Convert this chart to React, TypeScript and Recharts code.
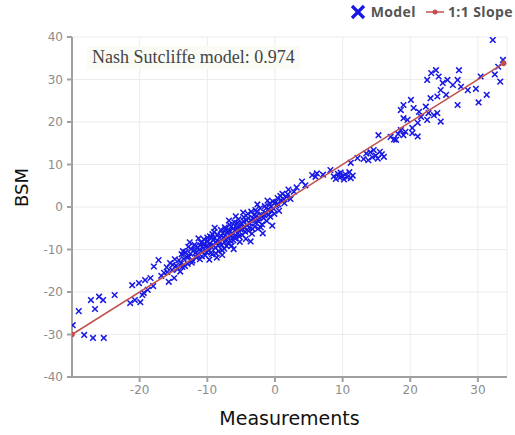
import React from "react";
import {
  ScatterChart,
  Scatter,
  XAxis,
  YAxis,
  CartesianGrid,
} from "recharts";

const lowTail: [number, number][] = [
  [-29.9, -27.8], [-29, -24.5], [-28.2, -30.1], [-27.2, -21.9], [-26.6, -24],
  [-26.9, -30.8], [-26, -21.1], [-25.4, -21.9], [-25.3, -30.8], [-23.7, -20.7],
  [-21.4, -22.6], [-20.7, -21.9], [-19.9, -22.4], [-19.6, -20.7], [-19.4, -20.2],
  [-21.1, -18.4], [-20.1, -17.9], [-19.2, -17.2], [-18.4, -16.7], [-17.9, -14],
  [-17.2, -12.5], [-18.8, -19.5], [-18, -18.6],
];

const bandLow: [number, number][] = [
  [-16.4, -15.5], [-15.7, -17.6], [-15.2, -14.8], [-14.9, -16.7], [-14.2, -12.5],
  [-13.7, -14.1], [-12.7, -11.7], [-11.8, -10.8], [-10.7, -10.5], [-16.8, -16.2],
  [-16, -14.2], [-15.5, -13.2], [-14.6, -13.8], [-14, -15.2], [-13.5, -12.2],
  [-13.2, -10.6], [-12.9, -13.4], [-12.4, -9.9], [-12.2, -12.6], [-11.9, -8.9],
  [-11.6, -11.9], [-11.4, -9.6], [-11.1, -12.3], [-10.9, -8.4], [-10.5, -7.6],
  [-10.3, -11.4], [-10.2, -9.3], [-13.8, -11.1], [-14.8, -12.3], [-15.9, -15.3],
  [-12.6, -8.3], [-11.3, -7.4],
];

const bandMid: [number, number][] = [
  [-9.9, -8.1], [-9.8, -10.2], [-9.6, -6.9], [-9.5, -9.2], [-9.3, -11.1],
  [-9.1, -7.8], [-9, -5.9], [-8.8, -9.6], [-8.7, -8.4], [-8.5, -6.5],
  [-8.3, -10.4], [-8.2, -7.3], [-8, -5.4], [-7.9, -8.9], [-7.7, -6.2],
  [-7.5, -9.8], [-7.4, -4.8], [-7.2, -7.6], [-7, -5.7], [-6.9, -8.6],
  [-6.7, -4.2], [-6.5, -6.8], [-6.4, -9.1], [-6.2, -5.1], [-6, -3.6],
  [-5.9, -7.4], [-5.7, -4.7], [-5.5, -6.1], [-5.4, -2.9], [-5.2, -8.2],
  [-5.1, -5.3], [-9.7, -12.4], [-8.9, -4.9], [-7.8, -11.3], [-6.8, -3.2],
  [-6.1, -9.9], [-9.4, -7.1], [-8.6, -11.9], [-7.1, -6.1], [-5.8, -2.2],
];

const bandHigh: [number, number][] = [
  [-4.9, -3.9], [-4.8, -6.6], [-4.6, -2.4], [-4.5, -4.9], [-4.3, -7.5],
  [-4.2, -3.1], [-4, -1.6], [-3.9, -5.6], [-3.7, -3.9], [-3.5, -1.1],
  [-3.4, -6.3], [-3.2, -2.8], [-3, -4.6], [-2.9, -0.7], [-2.7, -2.1],
  [-2.5, -5.1], [-2.4, -3.4], [-2.2, -0.3], [-2, -1.8], [-1.9, -4.1],
  [-1.7, -2.6], [-1.5, 0.2], [-1.4, -1.4], [-1.2, -3.3], [-1, -0.6],
  [-0.8, 0.8], [-0.7, -2.3], [-0.5, -0.9], [-0.3, 1.3], [-0.1, -1.6],
  [-4.7, -1.3], [-3.6, -8.1], [-2.6, 0.6], [-1.8, -6.2], [-1.1, 1.5], [-0.4, -4.4],
];

// extra marks that fill out the dense core of the band
const bandFill: [number, number][] = [
  [-15.1, -13.6], [-14.4, -14.6], [-13.9, -13.3], [-13.6, -10.4], [-13.3, -13.9],
  [-13, -11.8], [-12.8, -9.4], [-12.5, -11], [-12.3, -13.1], [-12, -10.2],
  [-11.7, -9.2], [-11.5, -11.2], [-11.2, -10.1], [-11, -9], [-10.8, -11.6],
  [-10.6, -9.6], [-10.4, -8.6], [-10.1, -10.6], [-10, -7.2], [-9.85, -9.5],
  [-9.65, -8.6], [-9.45, -10.7], [-9.25, -6.4], [-9.05, -9.1], [-8.95, -7.3],
  [-8.75, -10.9], [-8.55, -7.9], [-8.4, -9.1], [-8.1, -8.2], [-7.95, -6.8],
  [-7.8, -10.2], [-7.6, -7.2], [-7.45, -8.3], [-7.3, -5.2], [-7.15, -9.2],
  [-6.95, -7.1], [-6.75, -5.6], [-6.6, -7.9], [-6.45, -4.6], [-6.3, -6.2],
  [-6.15, -7.8], [-5.95, -5.5], [-5.75, -6.7], [-5.6, -3.8], [-5.45, -5],
  [-5.3, -6.9], [-5.05, -4.2], [-4.85, -5.2], [-4.65, -3.3], [-4.4, -5.8],
  [-4.15, -4.3], [-3.95, -2.6], [-3.8, -4.8], [-3.55, -3.1], [-3.3, -5.2],
  [-3.1, -1.9], [-2.85, -3.7], [-2.65, -1.2], [-2.3, -2.6], [-2.1, -4.8],
  [-1.6, -1.9], [-1.3, -0.3], [-0.9, -1.8], [-0.6, 0.1], [-0.2, -0.4],
  [0.1, 1.1], [0.5, 0.6], [0.8, 2.6], [1.3, 1.8], [1.9, 3],
];

const midRun: [number, number][] = [
  [0.2, 0.4], [0.4, 2.1], [0.6, -0.9], [0.9, 1.6], [1.1, 3.1], [1.4, 0.9],
  [1.7, 2.4], [2, 4.1], [2.3, 1.9], [2.8, 3.6], [3.2, 4.6], [4, 6],
  [4.5, 5.1], [5.5, 7.5], [6, 7.1], [6.2, 7.9], [7.1, 7.6], [8.2, 8.7],
  [8.7, 7.2], [9, 6.6], [9.3, 7.8], [9.6, 6.9], [9.7, 8.1], [10, 7.3],
  [10.2, 6.5], [10.4, 7.7], [10.7, 7], [11, 8.2], [11.2, 6.8], [11.5, 7.4],
  [11.2, 10.4], [12.2, 11.5],
  [13.1, 11.3], [13.5, 12.6], [13.8, 11], [14.1, 12.9], [14.4, 11.7], [14.6, 13.4],
  [14.9, 12.1], [15.2, 11.4], [15.5, 13], [15.8, 12.4], [16.1, 11.8], [15.3, 16.9],
];

const upperRun: [number, number][] = [
  [17.1, 16.5], [17.6, 15.9], [17.9, 15.8], [18.2, 17.2], [18.6, 18.1], [19, 16.9],
  [19.3, 17.7], [19.6, 20.5], [20.3, 17.4], [20.3, 18.6], [21.1, 16.6], [21.1, 19.8],
  [18.6, 22.8], [19, 24], [19, 20.9], [20.1, 25.2], [20.5, 23.3], [21.3, 22.4],
  [21.6, 21.2], [22.5, 20.5], [22.7, 22.1],
  [22.3, 23.6], [22.5, 29.9], [23, 25.6], [23.1, 31.5], [23.5, 21.6], [23.8, 32.2],
  [24, 22.1], [24, 26], [24.2, 30.7], [24.5, 27.5], [24.5, 20.1], [24.8, 29.2],
  [25.3, 26.4], [25.5, 29.9], [26.3, 28.7], [27, 29.9], [27, 24], [27.2, 32.2],
  [27.5, 28.3], [28.5, 27.5], [29.7, 27.8], [30.4, 30.7], [31.3, 26.4], [32.2, 39.3],
  [33.3, 29.5], [33.7, 34.6], [30.1, 24.6], [32.5, 31.2], [33, 33],
];

const slopeEnds = [-30, 33.8];
const xTicks = [-20, -10, 0, 10, 20, 30];
const yTicks = [-40, -30, -20, -10, 0, 10, 20, 30, 40];
const nashSutcliffe = 0.974;

const BLUE = "#1818e6";
const RED = "#c0504d";

const model = [
  ...lowTail, ...bandLow, ...bandMid, ...bandHigh, ...bandFill, ...midRun, ...upperRun,
].map(([x, y]) => ({ x, y }));
const slope = slopeEnds.map((v) => ({ x: v, y: v }));

function XMark(props: any) {
  const { cx, cy } = props;
  const s = 2.8;
  return (
    <path
      d={`M${cx - s},${cy - s}L${cx + s},${cy + s}M${cx + s},${cy - s}L${cx - s},${cy + s}`}
      stroke={BLUE}
      strokeWidth={1.5}
      fill="none"
    />
  );
}

function SlopeDot(props: any) {
  const { cx, cy } = props;
  return <circle cx={cx} cy={cy} r={2.8} fill={RED} />;
}

const tickStyle = { fill: "#8c8c8c", fontSize: 12, fontFamily: "DejaVu Sans" };

export default function App() {
  return (
    <div style={{ position: "fixed", left: 0, top: 0, width: 515, height: 435, background: "#fff" }}>
      <div
        style={{
          position: "absolute",
          right: 2,
          top: 2,
          display: "flex",
          alignItems: "center",
          fontFamily: "Open Sans",
          fontWeight: 700,
          fontSize: 14,
          letterSpacing: 0.4,
          color: "#555",
          zIndex: 2,
        }}
      >
        <svg width={16} height={16} style={{ marginRight: 5 }}>
          <path d="M2,2L14,14M14,2L2,14" stroke={BLUE} strokeWidth={3.2} />
        </svg>
        <span style={{ marginRight: 10 }}>Model</span>
        <svg width={18} height={10} style={{ marginRight: 4 }}>
          <line x1={0} y1={5} x2={18} y2={5} stroke={RED} strokeWidth={1.5} />
          <circle cx={9} cy={5} r={2.5} fill={RED} />
        </svg>
        <span>1:1 Slope</span>
      </div>
      <div
        style={{
          position: "absolute",
          left: 87,
          top: 46,
          padding: "1px 5px",
          background: "#fbfbf6",
          fontFamily: "Liberation Serif",
          fontSize: 18,
          color: "#444",
          zIndex: 2,
        }}
      >
        Nash Sutcliffe model: {nashSutcliffe}
      </div>
      <ScatterChart width={515} height={435} margin={{ top: 37, right: 8, bottom: 0, left: 0 }}>
        <CartesianGrid stroke="#ececec" />
        <XAxis
          type="number"
          dataKey="x"
          domain={[-30, 34.3]}
          ticks={xTicks}
          allowDataOverflow
          height={58}
          tick={tickStyle}
          tickSize={5}
          tickMargin={3}
          stroke="#a0a0a0"
          strokeWidth={2}
          label={{
            value: "Measurements",
            position: "insideBottom",
            offset: 10,
            fill: "#111",
            fontSize: 19,
            fontFamily: "DejaVu Sans",
          }}
        />
        <YAxis
          type="number"
          dataKey="y"
          domain={[-40, 40]}
          ticks={yTicks}
          allowDataOverflow
          width={72}
          tick={tickStyle}
          tickSize={5}
          tickMargin={4}
          stroke="#a0a0a0"
          strokeWidth={2}
          label={{
            value: "BSM",
            angle: -90,
            position: "insideLeft",
            offset: 22,
            fill: "#111",
            fontSize: 18,
            fontFamily: "DejaVu Sans",
          }}
        />
        <Scatter data={model} shape={<XMark />} isAnimationActive={false} />
        <Scatter
          data={slope}
          line={{ stroke: RED, strokeWidth: 1.5 }}
          shape={<SlopeDot />}
          isAnimationActive={false}
        />
      </ScatterChart>
    </div>
  );
}
